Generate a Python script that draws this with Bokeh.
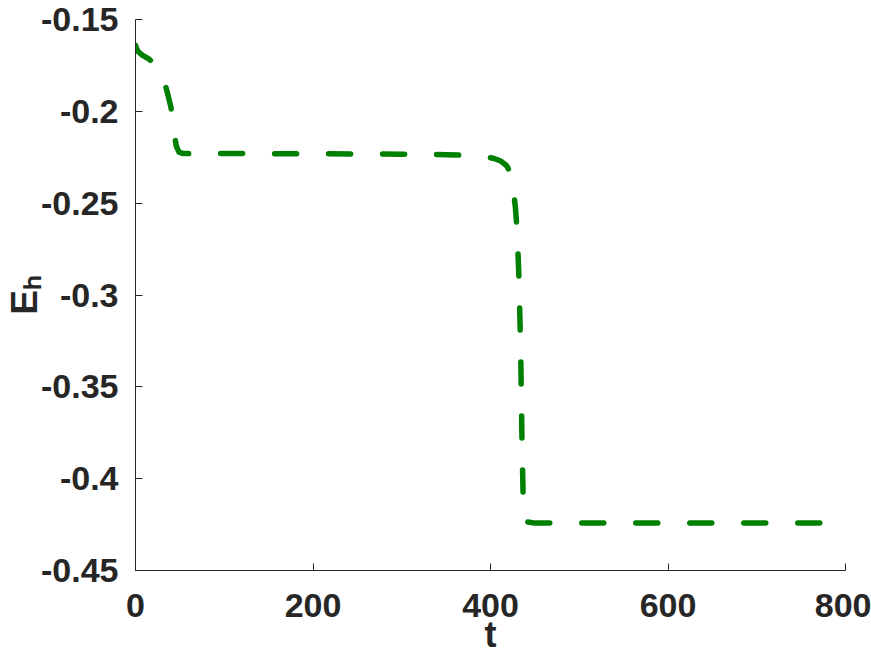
from bokeh.plotting import figure
from bokeh.models import Range1d, FixedTicker
from bokeh.embed import file_html
from bokeh.resources import INLINE

# ---- data ----
t = [0, 1, 3, 8, 15, 20, 26, 32, 36, 40, 43, 46, 49, 53, 60, 100, 200, 300,
     350, 380, 395, 405, 412, 418, 422, 425, 428, 430, 432, 434, 435.5, 437,
     440, 450, 500, 600, 700, 800]
energy = [-0.164, -0.1655, -0.1675, -0.1695, -0.1715, -0.1735, -0.177, -0.183,
          -0.190, -0.198, -0.210, -0.219, -0.2222, -0.2229, -0.2230, -0.2230,
          -0.2231, -0.2233, -0.2236, -0.2241, -0.2248, -0.2258, -0.2272,
          -0.2295, -0.2330, -0.240, -0.252, -0.265, -0.290, -0.330, -0.380,
          -0.415, -0.4235, -0.4242, -0.4242, -0.4242, -0.4242, -0.4242]

x_ticks = [0, 200, 400, 600, 800]
y_ticks = [-0.45, -0.4, -0.35, -0.3, -0.25, -0.2, -0.15]
y_tick_labels = ["-0.45", "-0.4", "-0.35", "-0.3", "-0.25", "-0.2", "-0.15"]
x_label = "t"
y_label = "E\u2095"

TEXT = "#262626"
FONT = "Liberation Sans"

p = figure(width=871, height=660,
           min_border_left=135, min_border_right=26,
           min_border_top=19, min_border_bottom=90,
           x_range=Range1d(0, 800), y_range=Range1d(-0.45, -0.15),
           output_backend="svg", toolbar_location=None)

p.line(t, energy, line_color="#008000", line_width=5.5, line_dash="22 32",
       line_cap="round", line_join="round")

p.grid.visible = False
p.outline_line_color = None
p.background_fill_color = "white"
p.border_fill_color = "white"

p.xaxis.ticker = FixedTicker(ticks=x_ticks, minor_ticks=[])
p.yaxis.ticker = FixedTicker(ticks=y_ticks, minor_ticks=[])
p.yaxis.major_label_overrides = {v: s for v, s in zip(y_ticks, y_tick_labels)}

for ax in (p.xaxis[0], p.yaxis[0]):
    ax.major_tick_in = 7
    ax.major_tick_out = 0
    ax.minor_tick_in = 0
    ax.minor_tick_out = 0
    ax.axis_line_color = TEXT
    ax.axis_line_width = 1
    ax.major_tick_line_color = TEXT
    ax.major_tick_line_width = 1
    ax.major_label_text_font = FONT
    ax.major_label_text_font_style = "bold"
    ax.major_label_text_font_size = "34px"
    ax.major_label_text_color = TEXT
    ax.axis_label_text_font = FONT
    ax.axis_label_text_font_style = "bold"
    ax.axis_label_text_font_size = "37px"
    ax.axis_label_text_color = TEXT

p.xaxis.axis_label = x_label
p.xaxis.axis_label_text_font_size = "36px"
p.yaxis.axis_label = y_label
p.xaxis.major_label_standoff = 23
p.xaxis.axis_label_standoff = -6
p.yaxis.major_label_standoff = 17
p.yaxis.axis_label_standoff = -7

open("out.html", "w").write(file_html(p, INLINE))
